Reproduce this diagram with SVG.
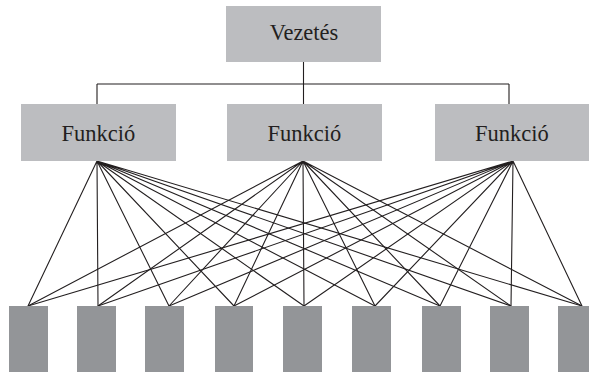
<svg xmlns="http://www.w3.org/2000/svg" width="589" height="372" viewBox="0 0 589 372">
  <style>
    .head { fill: #bcbdc0; }
    .unit { fill: #939598; }
    .lbl { font-family: 'Liberation Serif', 'Times New Roman', Times, serif; font-size: 22.5px; fill: #231f20; text-anchor: middle; }
    .wire { stroke: #231f20; stroke-width: 1.1; fill: none; }
  </style>
  <rect width="589" height="372" fill="#ffffff"/>

  <g id="connectors">
    <!-- management tree -->
    <path class="wire" d="M303.5 62 V84 M97 84 H509 M97 84 V104 M509 84 V104 M303.5 84 V104"/>
    <!-- each function to every unit -->
    <g id="mesh-1">
      <path class="wire" d="M97 161 L28 306 M97 161 L98 306 M97 161 L169 306 M97 161 L234 306 M97 161 L304 306 M97 161 L375 306 M97 161 L440 306 M97 161 L511 306 M97 161 L582 306"/>
    </g>
    <g id="mesh-2">
      <path class="wire" d="M303 161 L28 306 M303 161 L98 306 M303 161 L169 306 M303 161 L234 306 M303 161 L304 306 M303 161 L375 306 M303 161 L440 306 M303 161 L511 306 M303 161 L582 306"/>
    </g>
    <g id="mesh-3">
      <path class="wire" d="M513 161 L28 306 M513 161 L98 306 M513 161 L169 306 M513 161 L234 306 M513 161 L304 306 M513 161 L375 306 M513 161 L440 306 M513 161 L511 306 M513 161 L582 306"/>
    </g>
  </g>

  <g id="vezetes">
    <rect class="head" x="226" y="6" width="155" height="56"/>
    <text class="lbl" x="304" y="40">Vezetés</text>
  </g>

  <g id="funkcio-1">
    <rect class="head" x="21" y="104" width="155" height="57"/>
    <text class="lbl" x="98.5" y="141">Funkció</text>
  </g>
  <g id="funkcio-2">
    <rect class="head" x="227" y="104" width="155" height="57"/>
    <text class="lbl" x="304.5" y="141">Funkció</text>
  </g>
  <g id="funkcio-3">
    <rect class="head" x="435" y="104" width="154" height="57"/>
    <text class="lbl" x="512" y="141">Funkció</text>
  </g>

  <g id="unit-1"><rect class="unit" x="9" y="306" width="39" height="66"/></g>
  <g id="unit-2"><rect class="unit" x="77" y="306" width="39" height="66"/></g>
  <g id="unit-3"><rect class="unit" x="145" y="306" width="39" height="66"/></g>
  <g id="unit-4"><rect class="unit" x="215" y="306" width="38" height="66"/></g>
  <g id="unit-5"><rect class="unit" x="283" y="306" width="39" height="66"/></g>
  <g id="unit-6"><rect class="unit" x="352" y="306" width="39" height="66"/></g>
  <g id="unit-7"><rect class="unit" x="422" y="306" width="39" height="66"/></g>
  <g id="unit-8"><rect class="unit" x="490" y="306" width="39" height="66"/></g>
  <g id="unit-9"><rect class="unit" x="558" y="306" width="39" height="66"/></g>
</svg>
